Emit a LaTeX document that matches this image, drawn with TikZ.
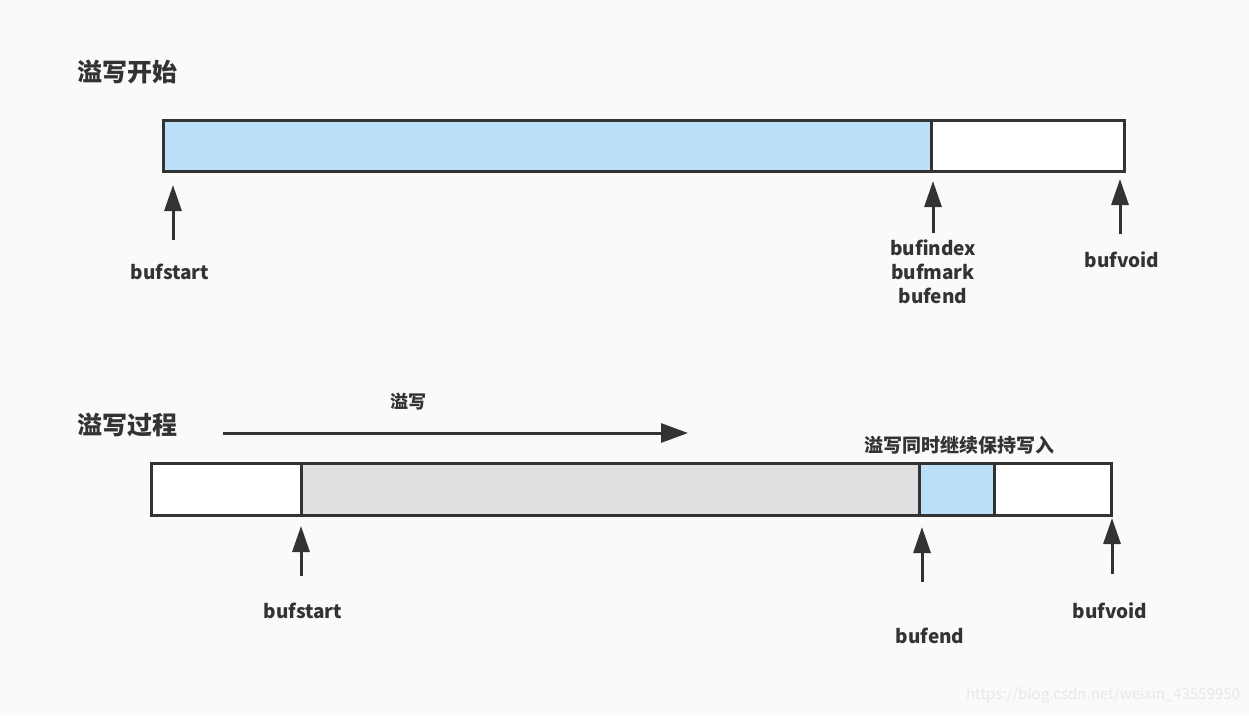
\documentclass[tikz,border=0pt]{standalone}
\usepackage{fontspec}
\setmainfont{Noto Sans CJK SC}
\usetikzlibrary{arrows.meta}
\definecolor{ink}{HTML}{333333}
\definecolor{bg}{HTML}{FAFAFA}
\definecolor{fillblue}{HTML}{BBDEF9}
\definecolor{fillgray}{HTML}{E0E0E0}
\definecolor{wm}{HTML}{E8E8E8}
\tikzset{
  seg/.style={draw=ink, line width=3pt, inner sep=0pt, outer sep=0pt, anchor=north west},
  lbl/.style={text=ink, font=\bfseries\fontsize{19}{24}\selectfont, inner sep=0pt, align=center},
  ttl/.style={text=ink, font=\bfseries\fontsize{25}{30}\selectfont, inner sep=0pt, anchor=west},
  arr/.style={draw=ink, line width=3pt, -{Triangle[length=26pt,width=17pt]}},
  harr/.style={draw=ink, line width=3pt, -{Triangle[length=27pt,width=19pt]}},
}
\begin{document}
\begin{tikzpicture}[x=1pt,y=-1pt]
\fill[bg] (0,0) rectangle (1249,715);
\useasboundingbox (0,0) rectangle (1249,715);
% top
\node[ttl] (t1) at (77,72) {溢写开始};
\node[seg, fill=fillblue, minimum width=768pt, minimum height=51pt] (a1) at (163,120) {};
\node[seg, fill=white, minimum width=193pt, minimum height=51pt] (a2) at (931,120) {};
\coordinate (s1t) at (173,240); \coordinate (s1h) at (173,185);
\coordinate (s2t) at (933,233); \coordinate (s2h) at (933,181);
\coordinate (s3t) at (1120,234); \coordinate (s3h) at (1120,179);
\draw[arr] (s1t) -- (s1h);
\draw[arr] (s2t) -- (s2h);
\draw[arr] (s3t) -- (s3h);
\node[lbl] (l1) at (170,272) {bufstart};
\node[lbl, align=center] (l2) at (933,272) {bufindex\\bufmark\\bufend};
\node[lbl] (l3) at (1122,260) {bufvoid};
% bottom
\node[ttl] (t2) at (77,425) {溢写过程};
\node[lbl, font=\bfseries\fontsize{18}{22}\selectfont] (sp) at (408,402) {溢写};
\coordinate (pt) at (223,433); \coordinate (ph) at (688,433);
\draw[harr] (pt) -- (ph);
\node[lbl, font=\bfseries\fontsize{19}{22}\selectfont] (cont) at (959,445) {溢写同时继续保持写入};
\node[seg, fill=white, minimum width=150pt, minimum height=52pt] (b1) at (151,463) {};
\node[seg, fill=fillgray, minimum width=618pt, minimum height=52pt] (b2) at (301,463) {};
\node[seg, fill=fillblue, minimum width=75pt, minimum height=52pt] (b3) at (919,463) {};
\node[seg, fill=white, minimum width=117pt, minimum height=52pt] (b4) at (994,463) {};
\coordinate (u1t) at (301,576); \coordinate (u1h) at (301,526);
\coordinate (u2t) at (922,582); \coordinate (u2h) at (922,527);
\coordinate (u3t) at (1112,574); \coordinate (u3h) at (1112,518);
\draw[arr] (u1t) -- (u1h);
\draw[arr] (u2t) -- (u2h);
\draw[arr] (u3t) -- (u3h);
\node[lbl] (m1) at (303,611) {bufstart};
\node[lbl] (m2) at (930,636) {bufend};
\node[lbl] (m3) at (1110,611) {bufvoid};
\node[text=wm, font=\fontsize{15}{18}\selectfont, inner sep=0pt] (w) at (1103,695) {https://blog.csdn.net/weixin\_43559950};
\end{tikzpicture}
\end{document}
